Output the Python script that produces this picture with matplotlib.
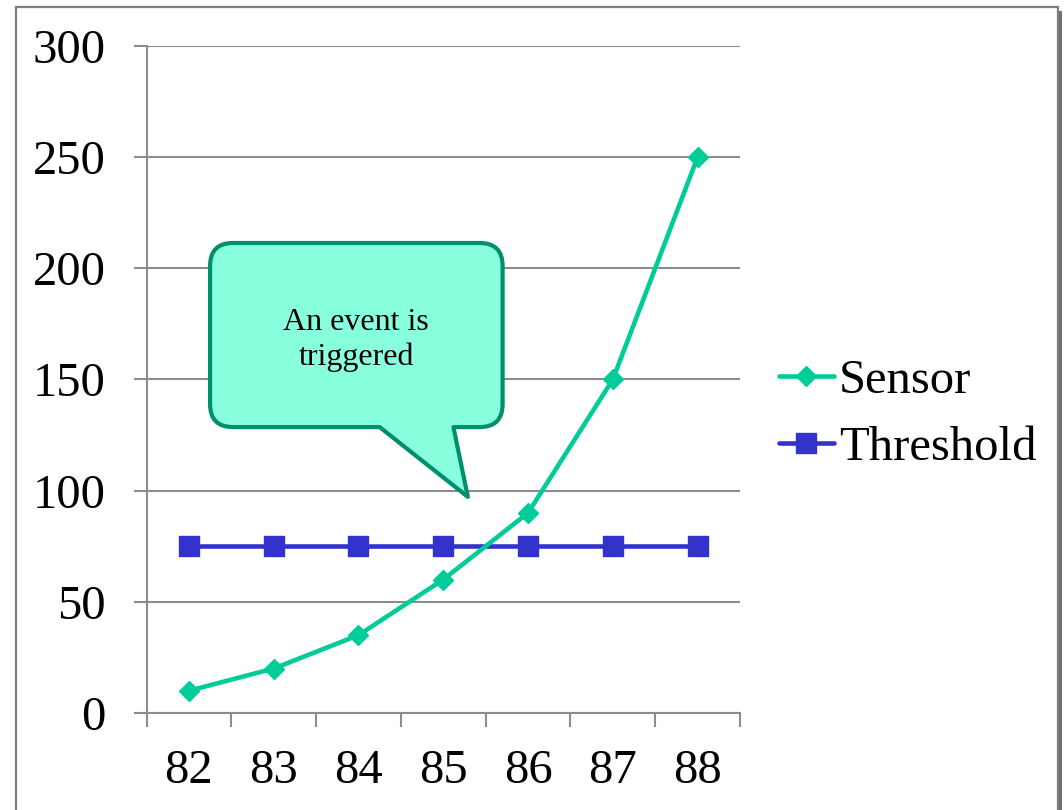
import matplotlib
matplotlib.use("Agg")
import matplotlib.pyplot as plt
from matplotlib.path import Path
from matplotlib.patches import PathPatch, Rectangle

categories = ["82", "83", "84", "85", "86", "87", "88"]
sensor = [10, 20, 35, 60, 90, 150, 250]
threshold = [75, 75, 75, 75, 75, 75, 75]
y_ticks = [0, 50, 100, 150, 200, 250, 300]
callout_text = "An event is\ntriggered"

SENSOR_C = "#00CC99"
THRESH_C = "#3333CC"
GRID_C = "#8C8C8C"

plt.rcParams['font.family'] = ['Liberation Serif', 'DejaVu Serif']

fig = plt.figure(figsize=(10.64, 8.10), dpi=100)
fig.patch.set_facecolor("white")

# outer frame with shadow
fig.patches.append(Rectangle((18/1064, -0.05), 1044/1064, 1 - 9/810 + 0.05 - 0.002,
                             transform=fig.transFigure, facecolor="#707070",
                             edgecolor="none", zorder=0))
fig.patches.append(Rectangle((16/1064, -0.05), 1042/1064, 1 - 7/810 + 0.05,
                             transform=fig.transFigure, facecolor="white",
                             edgecolor="#7F7F7F", linewidth=1.6, zorder=0.5))

ax = fig.add_axes([146.5/1064, 1 - 713/810, (740 - 146.5)/1064, (713 - 46)/810])
ax.set_zorder(2)
ax.set_facecolor("none")
x = list(range(len(categories)))

ax.plot(x, threshold, color=THRESH_C, linewidth=3.3, marker="s", markersize=14,
        label="Threshold", zorder=3, solid_capstyle="round")
ax.plot(x, sensor, color=SENSOR_C, linewidth=3.3, marker="D", markersize=10,
        label="Sensor", zorder=4, solid_capstyle="round")

ax.set_xlim(-0.5, len(categories) - 0.5)
ax.set_ylim(y_ticks[0], y_ticks[-1])
ax.set_yticks(y_ticks)
ax.set_yticklabels([str(v) for v in y_ticks])
ax.set_xticks(x)
ax.set_xticklabels(categories)
ax.set_xticks([i - 0.5 for i in range(len(categories) + 1)], minor=True)
ax.tick_params(axis="x", which="major", length=0, pad=26, labelsize=35)
ax.tick_params(axis="x", which="minor", length=10, width=1.5, color=GRID_C, direction="out")
ax.tick_params(axis="y", length=9.5, width=1.5, color=GRID_C, pad=20, labelsize=35)
ax.grid(axis="y", color=GRID_C, linewidth=1.5, zorder=1)
ax.set_axisbelow(True)
for s in ["top", "right"]:
    ax.spines[s].set_visible(False)
for s in ["left", "bottom"]:
    ax.spines[s].set_color(GRID_C)
    ax.spines[s].set_linewidth(1.5)

# callout (speech bubble) in data coordinates
x0, x1 = 0.25, 3.70
y0, y1 = 128.6, 211.4
rx, ry = 0.27, 10.3
pb0, pb1 = 2.25, 3.12
tip = (3.29, 97.2)
verts = [
    (x0 + rx, y1), (x1 - rx, y1), (x1, y1), (x1, y1 - ry),
    (x1, y0 + ry), (x1, y0), (x1 - rx, y0),
    (pb1, y0), tip, (pb0, y0),
    (x0 + rx, y0), (x0, y0), (x0, y0 + ry),
    (x0, y1 - ry), (x0, y1), (x0 + rx, y1),
    (x0 + rx, y1),
]
codes = [Path.MOVETO, Path.LINETO, Path.CURVE3, Path.CURVE3,
         Path.LINETO, Path.CURVE3, Path.CURVE3,
         Path.LINETO, Path.LINETO, Path.LINETO,
         Path.LINETO, Path.CURVE3, Path.CURVE3,
         Path.LINETO, Path.CURVE3, Path.CURVE3,
         Path.CLOSEPOLY]
bubble = PathPatch(Path(verts, codes), facecolor="#88FFDD", edgecolor="#008F6B",
                   linewidth=3, joinstyle="round", zorder=5, clip_on=False)
ax.add_patch(bubble)
ax.text((x0 + x1) / 2, (y0 + y1) / 2 - 2.2, callout_text, ha="center", va="center",
        fontsize=23, linespacing=1.25, zorder=6)

leg = ax.legend(handles=ax.get_lines()[::-1], loc="center left",
                bbox_to_anchor=(1.0, 0.4475), frameon=False, fontsize=35,
                handlelength=1.13, handletextpad=0.1, labelspacing=0.46,
                borderaxespad=0.4)

fig.savefig("out.png", dpi=100)
